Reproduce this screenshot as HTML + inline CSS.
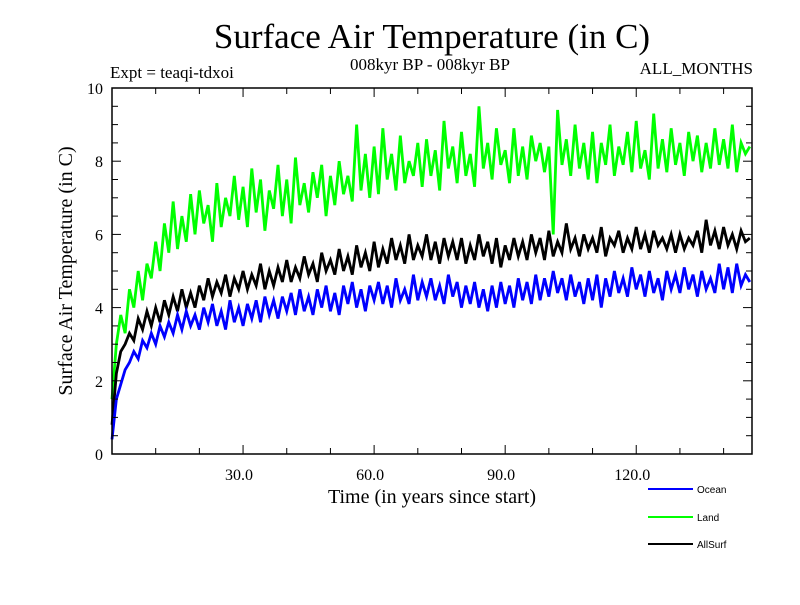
<!DOCTYPE html>
<html><head><meta charset="utf-8"><style>
body{margin:0;background:#fff;width:800px;height:600px;overflow:hidden}
svg text{font-family:"Liberation Serif",serif}
</style></head><body>
<svg id="c" width="800" height="600" xmlns="http://www.w3.org/2000/svg">
<text x="432" y="48" font-size="35" text-anchor="middle">Surface Air Temperature (in C)</text>
<text x="110" y="78" font-size="17">Expt = teaqi-tdxoi</text>
<text x="430" y="70" font-size="17" text-anchor="middle">008kyr BP - 008kyr BP</text>
<text x="753" y="74" font-size="17" text-anchor="end">ALL_MONTHS</text>
<text x="432" y="503" font-size="20" text-anchor="middle">Time (in years since start)</text>
<text transform="translate(72,271) rotate(-90)" font-size="20" text-anchor="middle">Surface Air Temperature (in C)</text>
<g id="plot"></g>
<g id="axes"></g>
<g id="legend"></g>
</svg>
<script>
const xTicks=[30,60,90,120];
const xTickLabels=["30.0","60.0","90.0","120.0"];
const yTicks=[0,2,4,6,8,10];
const yTickLabels=["0","2","4","6","8","10"];
const seriesNames=["Ocean","Land","AllSurf"];
const ocean=[0.4,1.5,1.9,2.3,2.5,2.8,2.6,3.1,2.9,3.3,3.0,3.5,3.2,3.6,3.3,3.8,3.4,3.9,3.5,3.8,3.4,4.0,3.6,4.1,3.5,3.9,3.4,4.2,3.6,4.0,3.5,4.1,3.7,4.2,3.6,4.3,3.8,4.2,3.7,4.3,3.9,4.4,3.8,4.5,3.9,4.3,3.8,4.5,4.0,4.6,3.9,4.4,3.8,4.6,4.1,4.7,4.0,4.5,3.9,4.6,4.2,4.7,4.1,4.6,4.0,4.8,4.2,4.5,4.1,4.9,4.2,4.7,4.3,4.8,4.2,4.6,4.1,4.9,4.3,4.7,4.0,4.6,4.1,4.7,4.0,4.5,3.9,4.6,4.0,4.7,4.1,4.6,4.0,4.8,4.2,4.7,4.1,4.9,4.2,4.8,4.3,5.0,4.4,4.8,4.2,4.9,4.3,4.7,4.1,4.8,4.2,4.9,4.0,4.8,4.3,5.0,4.4,4.8,4.3,5.1,4.5,4.9,4.3,5.0,4.4,4.8,4.2,5.0,4.5,4.9,4.4,5.1,4.5,4.9,4.3,5.0,4.5,4.8,4.4,5.2,4.5,5.1,4.4,5.2,4.6,4.9,4.7];
const land=[1.5,3.0,3.8,3.3,4.5,4.0,5.0,4.2,5.2,4.8,5.8,5.0,6.3,5.5,6.9,5.6,6.5,5.8,7.1,6.0,7.2,6.3,6.8,5.8,7.4,6.2,7.0,6.5,7.6,6.4,7.3,6.2,7.8,6.6,7.5,6.1,7.2,6.7,7.9,6.5,7.5,6.3,8.1,6.8,7.4,6.6,7.7,7.0,7.9,6.5,7.6,6.8,8.0,7.1,7.6,6.9,9.0,7.2,8.2,7.0,8.4,7.1,8.9,7.5,8.2,7.2,8.7,7.4,8.0,7.6,8.5,7.3,8.6,7.6,8.3,7.2,9.1,7.8,8.4,7.4,8.8,7.6,8.2,7.3,9.5,7.8,8.5,7.5,8.9,7.9,8.3,7.4,8.9,7.6,8.4,7.5,8.7,8.0,8.5,7.7,8.4,6.0,9.4,7.9,8.6,7.6,9.0,7.8,8.5,7.5,8.8,7.4,8.5,7.9,9.0,7.6,8.4,7.9,8.8,7.7,9.1,7.8,8.3,7.5,9.3,7.8,8.6,7.7,8.9,7.9,8.5,7.6,8.8,8.0,8.7,7.7,8.5,7.8,8.9,7.9,8.6,7.8,9.0,7.7,8.5,8.2,8.4];
const allSurf=[0.8,2.2,2.8,3.0,3.3,3.1,3.7,3.4,3.9,3.5,4.0,3.6,4.2,3.8,4.3,3.9,4.5,4.0,4.4,4.0,4.6,4.2,4.8,4.3,4.7,4.4,4.9,4.3,4.8,4.5,5.0,4.5,4.9,4.6,5.2,4.5,5.0,4.6,5.1,4.7,5.3,4.7,5.1,4.8,5.4,4.9,5.2,4.7,5.5,5.0,5.3,4.9,5.6,5.0,5.4,4.9,5.7,5.1,5.5,5.0,5.8,5.1,5.6,5.2,5.9,5.3,5.7,5.2,6.0,5.3,5.7,5.4,6.0,5.3,5.8,5.2,5.9,5.4,5.8,5.3,5.9,5.2,5.7,5.3,6.0,5.4,5.8,5.2,5.9,5.1,5.7,5.3,5.9,5.4,5.8,5.3,6.0,5.5,5.9,5.3,6.1,5.4,5.8,5.5,6.3,5.6,5.9,5.4,6.0,5.6,5.9,5.5,6.2,5.4,5.9,5.7,6.1,5.5,5.9,5.6,6.2,5.6,6.0,5.5,6.1,5.7,5.9,5.6,6.0,5.5,6.0,5.6,5.9,5.7,6.1,5.5,6.4,5.7,6.1,5.6,6.2,5.7,6.0,5.6,6.1,5.8,5.9];
const X0=112,X1=752,Y0=454,Y1=88,XMAX=146.5,YMAX=10;
const sx=v=>X0+(v/XMAX)*(X1-X0);
const sy=v=>Y0-(v/YMAX)*(Y0-Y1);
const NS="http://www.w3.org/2000/svg";
function mk(tag,attrs,parent){const e=document.createElementNS(NS,tag);for(const k in attrs)e.setAttribute(k,attrs[k]);parent.appendChild(e);return e;}
const plot=document.getElementById('plot'),axes=document.getElementById('axes'),legend=document.getElementById('legend');
const colors=["#0000ff","#00ff00","#000000"];
const data=[ocean,land,allSurf];
const order=[1,2,0];
order.forEach(i=>{
  const pts=data[i].map((v,j)=>sx(j).toFixed(2)+","+sy(v).toFixed(2)).join(" ");
  const pl=mk('polyline',{points:pts,fill:'none',stroke:colors[i],'stroke-width':2.8,'stroke-linejoin':'miter'},plot);
  
  
});
const frame=mk('rect',{x:X0,y:Y1,width:X1-X0,height:Y0-Y1,fill:'none',stroke:'#000','stroke-width':1.5},axes);


for(let v=10;v<XMAX;v+=10){
  const x=sx(v);const major=(v%30===0);const L=major?9:6;
  mk('line',{x1:x,y1:Y0,x2:x,y2:Y0-L,stroke:'#000','stroke-width':1},axes);
  mk('line',{x1:x,y1:Y1,x2:x,y2:Y1+L,stroke:'#000','stroke-width':1},axes);
}
for(let v=0.5;v<YMAX;v+=0.5){
  const y=sy(v);const major=(v%2===0);const L=major?9:6;
  mk('line',{x1:X0,y1:y,x2:X0+L,y2:y,stroke:'#000','stroke-width':1},axes);
  mk('line',{x1:X1,y1:y,x2:X1-L,y2:y,stroke:'#000','stroke-width':1},axes);
}
xTicks.forEach((v,i)=>{
  const t=mk('text',{x:sx(v)-4,y:480,'font-size':16,'text-anchor':'middle'},axes);
  t.textContent=xTickLabels[i];
  
  
});
yTicks.forEach((v,i)=>{
  const t=mk('text',{x:103,y:sy(v)+6,'font-size':16,'text-anchor':'end'},axes);
  t.textContent=yTickLabels[i];
  
  
});
const legY=[489,517,544];
[0,1,2].forEach((i,k)=>{
  const g=mk('g',{},legend);
  
  
  mk('line',{x1:648,y1:legY[k],x2:693,y2:legY[k],stroke:colors[i],'stroke-width':2},g);
  const t=mk('text',{x:697,y:legY[k]+4,'font-size':10,style:'font-family:"Liberation Sans",sans-serif'},g);
  t.textContent=seriesNames[i];
});
</script>
</body></html>
